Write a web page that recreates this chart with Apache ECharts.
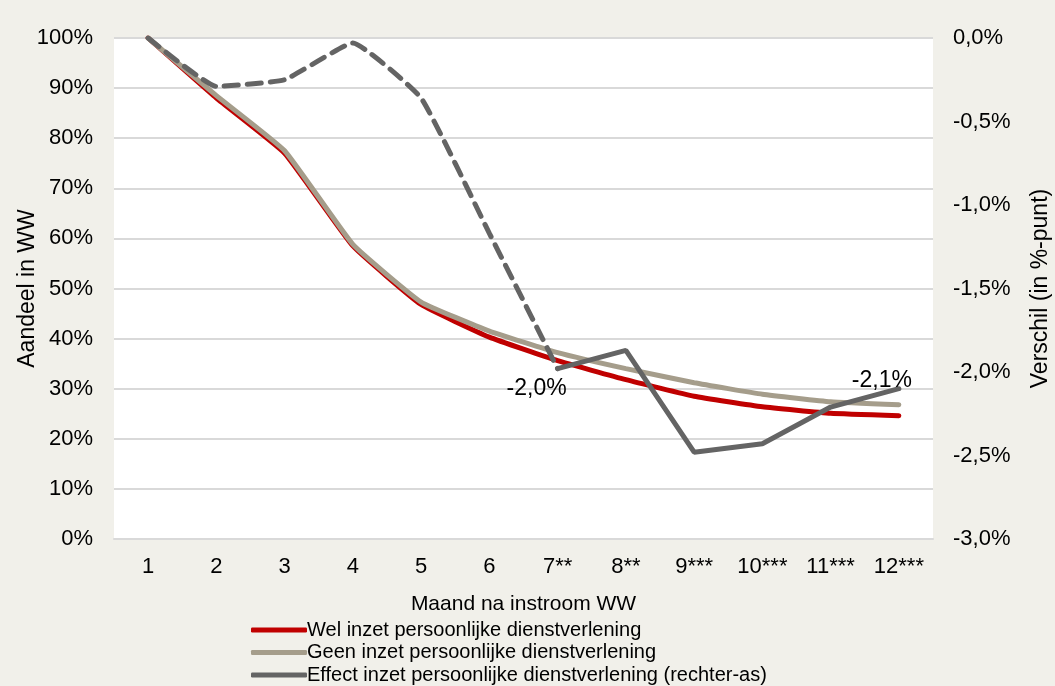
<!DOCTYPE html>
<html>
<head>
<meta charset="utf-8">
<script src="https://cdn.jsdelivr.net/npm/echarts@6/dist/echarts.min.js"></script>
<style>
  html, body { margin: 0; padding: 0; background: #f1f0ea; }
  #mChart { width: 1055px; height: 686px; }
</style>
</head>
<body>
<div id="mChart"></div>
<script>
// maanden na instroom
var maanden = ['1', '2', '3', '4', '5', '6', '7**', '8**', '9***', '10***', '11***', '12***'];
// aandeel in WW (%)
var welInzet = [100, 88, 77, 58.5, 46.8, 40.3, 35.6, 31.8, 28.5, 26.4, 25.1, 24.6];
var geenInzet = [100, 88.5, 77.5, 58.8, 47.3, 41.5, 37.2, 34.0, 31.2, 28.9, 27.4, 26.8];
// effect (%-punt), rechter-as
var effectNietSign = [0, -0.29, -0.25, -0.03, -0.36, -1.17, -1.98, null, null, null, null, null];
var effectSign = [null, null, null, null, null, null, -1.98, -1.87, -2.48, -2.43, -2.21, -2.10];

var font = 'Liberation Sans, Arial, sans-serif';

var myChart = echarts.init(document.getElementById('mChart'));
myChart.setOption({
  backgroundColor: '#f1f0ea',
  animation: false,
  textStyle: { fontFamily: font },
  grid: {
    left: 114, right: 122, top: 38, bottom: 147,
    outerBoundsMode: 'none', containLabel: false,
    backgroundColor: '#ffffff', show: true, borderWidth: 0
  },
  legend: {
    orient: 'vertical',
    left: 251,
    top: 620,
    height: 120,
    padding: 0,
    itemGap: 2.5,
    itemWidth: 56,
    itemHeight: 5,
    icon: 'roundRect',
    textStyle: { fontFamily: font, fontSize: 20, lineHeight: 20, color: '#000', padding: [0, 0, 0, -5] },
    data: ['Wel inzet persoonlijke dienstverlening', 'Geen inzet persoonlijke dienstverlening', 'Effect inzet persoonlijke dienstverlening (rechter-as)']
  },
  xAxis: {
    type: 'category',
    data: maanden,
    boundaryGap: true,
    name: 'Maand na instroom WW',
    nameLocation: 'middle',
    nameGap: 55,
    nameTextStyle: { fontFamily: font, fontSize: 21, color: '#000' },
    axisLine: { lineStyle: { color: '#d9d9d9', width: 2 } },
    axisTick: { show: false },
    axisLabel: { fontFamily: font, fontSize: 22, color: '#000', margin: 17 }
  },
  yAxis: [
    {
      type: 'value',
      min: 0,
      max: 100,
      interval: 10,
      name: 'Aandeel in WW',
      nameLocation: 'middle',
      nameGap: 75,
      nameMoveOverlap: false,
      nameTextStyle: { fontFamily: font, fontSize: 23, color: '#000' },
      axisLine: { show: false },
      axisTick: { show: false },
      axisLabel: { formatter: '{value}%', fontFamily: font, fontSize: 22, color: '#000', margin: 21 },
      splitLine: { lineStyle: { color: '#d9d9d9', width: 2 } }
    },
    {
      type: 'value',
      min: -3,
      max: 0,
      interval: 0.5,
      name: 'Verschil (in %-punt)',
      nameLocation: 'middle',
      nameGap: 96,
      nameMoveOverlap: false,
      nameRotate: 90,
      nameTextStyle: { fontFamily: font, fontSize: 23, color: '#000' },
      axisLine: { show: false },
      axisTick: { show: false },
      axisLabel: {
        fontFamily: font, fontSize: 22, color: '#000', margin: 20,
        formatter: function (v) { return v.toFixed(1).replace('.', ',') + '%'; }
      },
      splitLine: { show: false }
    }
  ],
  series: [
    {
      name: 'Wel inzet persoonlijke dienstverlening',
      type: 'line',
      data: welInzet,
      symbol: 'none',
      smooth: 0.12,
      lineStyle: { color: '#c00000', width: 5, cap: 'round' },
      itemStyle: { color: '#c00000' },
      z: 2
    },
    {
      name: 'Geen inzet persoonlijke dienstverlening',
      type: 'line',
      data: geenInzet,
      symbol: 'none',
      smooth: 0.12,
      lineStyle: { color: '#a59d8b', width: 5, cap: 'round' },
      itemStyle: { color: '#a59d8b' },
      z: 3
    },
    {
      name: 'Effect niet significant',
      type: 'line',
      yAxisIndex: 1,
      data: effectNietSign,
      symbol: 'none',
      smooth: 0.12,
      lineStyle: { color: '#646464', width: 5, type: [14, 9], cap: 'round' },
      z: 4
    },
    {
      name: 'Effect inzet persoonlijke dienstverlening (rechter-as)',
      type: 'line',
      yAxisIndex: 1,
      data: effectSign.map(function (v, i) {
        if (i === 6) return { value: v, label: { show: true, position: 'bottom', offset: [-21, 3] } };
        if (i === 11) return { value: v, label: { show: true, position: 'top', offset: [-17, 9] } };
        return v;
      }),
      symbol: 'circle',
      symbolSize: 1,
      showSymbol: true,
      lineStyle: { color: '#646464', width: 5, cap: 'round' },
      itemStyle: { color: '#646464' },
      label: {
        show: false,
        fontFamily: font,
        fontSize: 23,
        color: '#000',
        formatter: function (p) { return p.value.toFixed(1).replace('.', ',') + '%'; }
      },
      z: 5
    }
  ]
});
</script>
</body>
</html>
